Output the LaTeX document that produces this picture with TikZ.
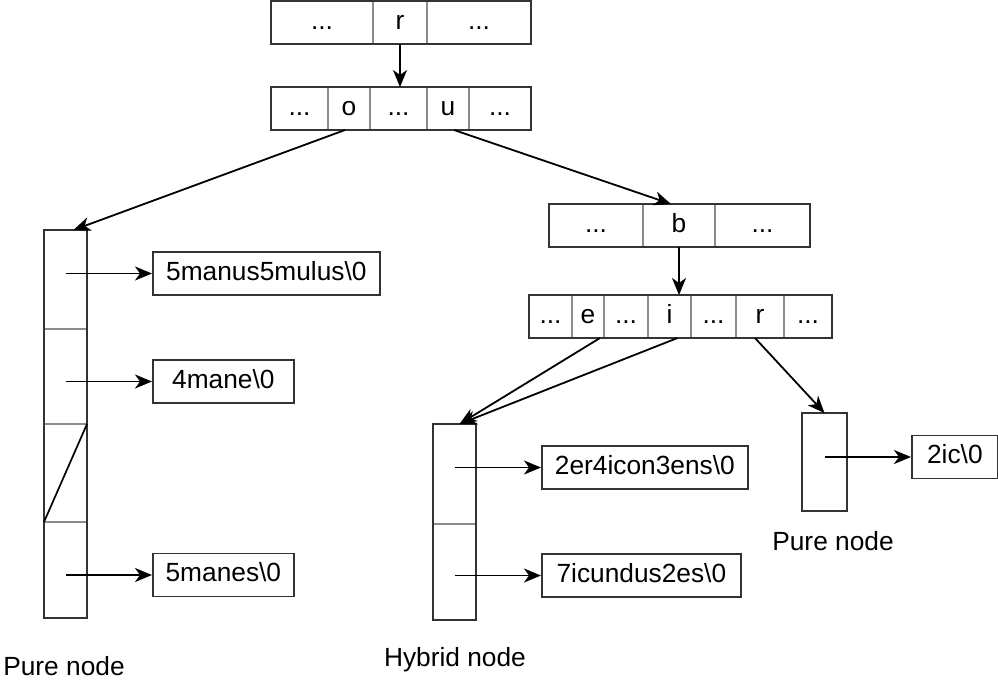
\documentclass[tikz,border=0pt]{standalone}
\usepackage{fontspec}
\setmainfont{Liberation Sans}
\usetikzlibrary{
arrows.meta,
positioning
}

\begin{document}
\begin{tikzpicture}[
x=1pt,y=-1pt,
font=\fontsize{26.3}{31}\selectfont,
cell/.style={
draw=black!45,
line width=1.7pt,
inner sep=0pt,
outer sep=0pt,
minimum height=43pt,
text height=18pt,
text depth=5pt
},
col/.style={
draw=black!45,
line width=1.7pt,
inner sep=0pt,
outer sep=0pt,
minimum width=43pt
},
frame/.style={draw=black!80,line width=1.7pt},
strbox/.style={
draw=black!80,
line width=1.7pt,
inner sep=0pt,
minimum height=43pt,
text height=18pt,
text depth=5pt,
anchor=west
},
lbl/.style={text height=18pt,text depth=5pt},
arr/.style={-{Stealth[length=17pt,width=14pt,inset=5pt]},line width=1.8pt}
]

\useasboundingbox (0,0) rectangle (998,694);

% root array
\node[cell,minimum width=102pt,anchor=west] (t1) at (271,22.5) {...};
\node[cell,minimum width=54pt,right=0pt of t1] (t2) {r};
\node[cell,minimum width=104pt,right=0pt of t2] (t3) {...};
\draw[frame] (t1.north west) rectangle (t3.south east);

% second level
\node[cell,minimum width=57pt,anchor=west] (s1) at (271,108.5) {...};
\node[cell,minimum width=42pt,right=0pt of s1] (s2) {o};
\node[cell,minimum width=57pt,right=0pt of s2] (s3) {...};
\node[cell,minimum width=42pt,right=0pt of s3] (s4) {u};
\node[cell,minimum width=62pt,right=0pt of s4] (s5) {...};
\draw[frame] (s1.north west) rectangle (s5.south east);

% b array
\node[cell,minimum width=94pt,anchor=west] (b1) at (549,225.5) {...};
\node[cell,minimum width=72pt,right=0pt of b1] (b2) {b};
\node[cell,minimum width=95pt,right=0pt of b2] (b3) {...};
\draw[frame] (b1.north west) rectangle (b3.south east);

% fourth level
\node[cell,minimum width=43pt,anchor=west] (c1) at (529,316.5) {...};
\node[cell,minimum width=32pt,right=0pt of c1] (c2) {e};
\node[cell,minimum width=44pt,right=0pt of c2] (c3) {...};
\node[cell,minimum width=43pt,right=0pt of c3] (c4) {i};
\node[cell,minimum width=45pt,right=0pt of c4] (c5) {...};
\node[cell,minimum width=48pt,right=0pt of c5] (c6) {r};
\node[cell,minimum width=48pt,right=0pt of c6] (c7) {...};
\draw[frame] (c1.north west) rectangle (c7.south east);

% left pure node
\node[col,minimum height=99pt,anchor=north] (l1) at (65.5,230) {};
\node[col,minimum height=95pt,below=0pt of l1] (l2) {};
\node[col,minimum height=98pt,below=0pt of l2] (l3) {};
\node[col,minimum height=96pt,below=0pt of l3] (l4) {};
\draw[frame] (l1.north west) rectangle (l4.south east);
\draw[line width=1.7pt] (l3.north east) -- (l3.south west);

% hybrid node
\node[col,minimum height=100pt,anchor=north] (h1) at (454.5,424) {};
\node[col,minimum height=96pt,below=0pt of h1] (h2) {};
\draw[frame] (h1.north west) rectangle (h2.south east);

% right pure node
\node[col,minimum width=45pt,minimum height=98pt,anchor=north] (p1) at (824.5,413) {};
\draw[frame] (p1.north west) rectangle (p1.south east);

% suffix strings
\node[strbox,minimum width=227pt] (w1) at (152,273.5) {5manus5mulus\textbackslash0};
\node[strbox,minimum width=141pt] (w2) at (152,381.5) {4mane\textbackslash0};
\node[strbox,minimum width=141pt] (w3) at (152,575) {5manes\textbackslash0};
\node[strbox,minimum width=206pt] (w4) at (541,467.5) {2er4icon3ens\textbackslash0};
\node[strbox,minimum width=199pt] (w5) at (541,575.5) {7icundus2es\textbackslash0};
\node[strbox,minimum width=86pt] (w6) at (911,457) {2ic\textbackslash0};

% labels
\node[lbl] (pure1) at (64,669) {Pure node};
\node[lbl] (hyb) at (455,660) {Hybrid node};
\node[lbl] (pure2) at (833,544) {Pure node};

% edges
\draw[arr] (t2.south) -- (t2.south |- s3.north);
\draw[arr] ([xshift=-4pt]s2.south) -- ([xshift=8pt]l1.north);
\draw[arr] ([xshift=6pt]s4.south) -- ([xshift=-8pt]b2.north);
\draw[arr] (b2.south) -- (b2.south |- c4.north);
\draw[arr] ([xshift=-4pt]c2.south east) -- ([xshift=5pt]h1.north);
\draw[arr] ([xshift=8pt]c4.south) -- ([xshift=5pt]h1.north);
\draw[arr] ([xshift=-5pt]c6.south) -- (p1.north);

\draw[arr] (l1.center |- w1.west) -- (w1.west);
\draw[arr] (l2.center |- w2.west) -- (w2.west);
\draw[arr] (l4.center |- w3.west) -- (w3.west);
\draw[arr] (h1.center |- w4.west) -- (w4.west);
\draw[arr] (h2.center |- w5.west) -- (w5.west);
\draw[arr] (p1.center |- w6.west) -- (w6.west);

\end{tikzpicture}
\end{document}
